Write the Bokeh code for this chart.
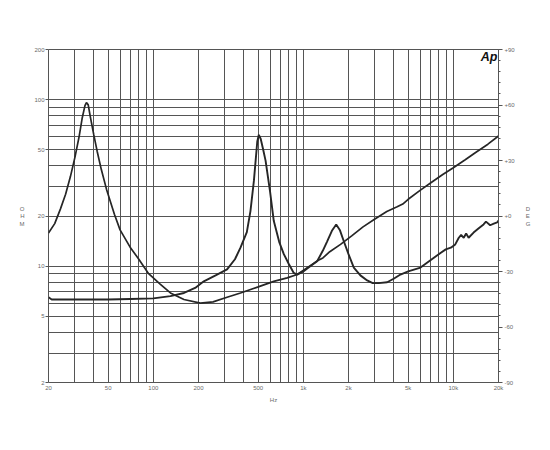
from bokeh.plotting import figure
from bokeh.models import Range1d, LinearAxis, FixedTicker, Label, LinearScale
from bokeh.embed import file_html
from bokeh.resources import INLINE

# ---- data: woofer-like impedance curve (peak ~36 Hz, inductive rise) ----
freq_a = [20, 22, 24, 26, 28, 30, 32, 33.5, 35, 35.8, 36.8, 38.1, 40, 42.2, 45, 48.7,
          55, 60, 70, 80, 93, 111, 130, 160, 206, 250, 310, 381, 500, 635, 780, 910,
          1100, 1250, 1350, 1500, 1770, 2100, 2500, 3000, 3600, 4220, 4600, 5000, 6000,
          7200, 8500, 10000, 12000, 14000, 17000, 20000]
ohm_a = [15.8, 18, 22, 27, 34.5, 45, 60, 77, 92, 96, 93, 78, 62, 49, 38, 29,
         20.5, 16.5, 13, 11, 9, 7.8, 6.9, 6.3, 6.0, 6.1, 6.5, 6.9, 7.5, 8.1, 8.5, 8.9,
         10.0, 10.8, 11.2, 12.2, 13.5, 15.2, 17.2, 19.2, 21.3, 22.7, 23.6, 25.2, 28.5,
         32, 35.5, 39, 43.5, 48, 54, 60.5]

# ---- data: driver impedance curve (peaks ~505 Hz and ~1.66 kHz) ----
freq_b = [20, 21, 25, 30, 40, 50, 70, 100, 130, 160, 190, 217, 260, 310, 350, 381, 420,
          444, 468, 493, 505, 520, 540, 560, 600, 635, 690, 741, 800, 863, 910, 1000,
          1100, 1236, 1350, 1442, 1550, 1656, 1750, 1861, 2000, 2170, 2400, 2665, 2900,
          3180, 3620, 4000, 4440, 5000, 6040, 7000, 8210, 8900, 9620, 10300, 10870,
          11270, 11730, 12170, 12640, 13640, 14700, 15900, 16500, 17600, 18600, 19600,
          20000]
ohm_b = [6.5, 6.3, 6.3, 6.3, 6.3, 6.3, 6.35, 6.4, 6.6, 6.9, 7.4, 8.1, 8.8, 9.55, 11,
         12.9, 16, 21.4, 32.5, 56, 61.5, 58, 50, 43, 28, 18.7, 14, 11.8, 10.3, 9.1, 8.9,
         9.3, 9.9, 10.7, 12.4, 14.1, 16.3, 17.8, 16.5, 14.1, 11.8, 9.8, 8.8, 8.2, 7.9,
         7.9, 8.0, 8.4, 8.9, 9.3, 9.8, 10.8, 12.0, 12.6, 12.9, 13.5, 14.8, 15.4, 14.8,
         15.7, 14.8, 15.9, 16.8, 17.8, 18.5, 17.6, 18.0, 18.3, 18.8]

# ---- ticks / labels ----
x_ticks = [20, 50, 100, 200, 500, 1000, 2000, 5000, 10000, 20000]
x_tick_labels = ["20", "50", "100", "200", "500", "1k", "2k", "5k", "10k", "20k"]
y_ticks = [2, 5, 10, 20, 50, 100, 200]
y_tick_labels = ["2", "5", "10", "20", "50", "100", "200"]
deg_ticks = [-90, -60, -30, 0, 30, 60, 90]
deg_tick_labels = ["-90", "-60", "-30", "+0", "+30", "+60", "+90"]
deg_minor = list(range(-90, 91, 6))
x_grid = [d * m for d in (10, 100, 1000, 10000) for m in range(1, 10) if 20 <= d * m <= 20000]
y_grid = [d * m for d in (1, 10, 100) for m in range(1, 10) if 2 <= d * m <= 200]

GRID = "#555555"
CURVE = "#262626"
LABEL = "#6a6a6a"
FONT = "Liberation Sans"

p = figure(width=542, height=428, x_axis_type="log", y_axis_type="log",
           x_range=Range1d(20, 20000), y_range=Range1d(2, 200),
           output_backend="svg", toolbar_location=None,
           min_border_left=48, min_border_right=44, min_border_top=49, min_border_bottom=46)
p.title.visible = False
p.outline_line_color = GRID
p.outline_line_width = 1
p.background_fill_color = "white"
p.border_fill_color = "white"

p.xgrid.ticker = FixedTicker(ticks=x_grid)
p.ygrid.ticker = FixedTicker(ticks=y_grid)
for g in (p.xgrid[0], p.ygrid[0]):
    g.grid_line_color = GRID
    g.grid_line_width = 1
    g.grid_line_alpha = 1

xa = p.xaxis[0]
xa.ticker = FixedTicker(ticks=x_ticks)
xa.major_label_overrides = dict(zip(x_ticks, x_tick_labels))
xa.major_tick_out = 0
xa.major_tick_in = 0
xa.minor_tick_line_color = None
xa.axis_line_color = None
xa.major_label_standoff = 2
xa.major_label_text_font = FONT
xa.major_label_text_font_size = "6px"
xa.major_label_text_color = LABEL
xa.axis_label = "Hz"
xa.axis_label_standoff = 3
xa.axis_label_text_font = FONT
xa.axis_label_text_font_size = "6px"
xa.axis_label_text_font_style = "normal"
xa.axis_label_text_color = LABEL

ya = p.yaxis[0]
ya.ticker = FixedTicker(ticks=y_ticks)
ya.major_label_overrides = dict(zip(y_ticks, y_tick_labels))
ya.major_tick_out = 3
ya.major_tick_in = 0
ya.major_tick_line_color = GRID
ya.minor_tick_line_color = None
ya.axis_line_color = None
ya.major_label_standoff = 1
ya.major_label_text_font = FONT
ya.major_label_text_font_size = "6px"
ya.major_label_text_color = LABEL
ya.axis_label = "O\nH\nM"
ya.axis_label_orientation = "horizontal"
ya.axis_label_standoff = 7
ya.axis_label_text_font = FONT
ya.axis_label_text_font_size = "6px"
ya.axis_label_text_font_style = "normal"
ya.axis_label_text_color = LABEL
ya.axis_label_text_line_height = 1.25

p.extra_y_ranges = {"deg": Range1d(-90, 90)}
p.extra_y_scales = {"deg": LinearScale()}
ra = LinearAxis(y_range_name="deg", ticker=FixedTicker(ticks=deg_ticks, minor_ticks=deg_minor))
ra.major_label_overrides = dict(zip(deg_ticks, deg_tick_labels))
ra.axis_line_color = GRID
ra.major_tick_line_color = GRID
ra.minor_tick_line_color = GRID
ra.major_tick_out = 4
ra.major_tick_in = 0
ra.minor_tick_out = 2
ra.minor_tick_in = 0
ra.major_label_standoff = 2
ra.major_label_text_font = FONT
ra.major_label_text_font_size = "6px"
ra.major_label_text_color = LABEL
ra.axis_label = "D\nE\nG"
ra.axis_label_orientation = "horizontal"
ra.axis_label_standoff = 8
ra.axis_label_text_font = FONT
ra.axis_label_text_font_size = "6px"
ra.axis_label_text_font_style = "normal"
ra.axis_label_text_color = LABEL
ra.axis_label_text_line_height = 1.25
p.add_layout(ra, "right")

p.line(freq_a, ohm_a, line_width=1.7, line_color=CURVE)
p.line(freq_b, ohm_b, line_width=1.9, line_color=CURVE)

# Ap logo
p.add_layout(Label(x=20000, y=200, x_offset=-1, y_offset=0, text="Ap", text_font=FONT,
                   text_font_size="12.5px", text_font_style="bold italic", text_color="#111111",
                   text_align="right", text_baseline="top"))

open("out.html", "w").write(file_html(p, INLINE))
